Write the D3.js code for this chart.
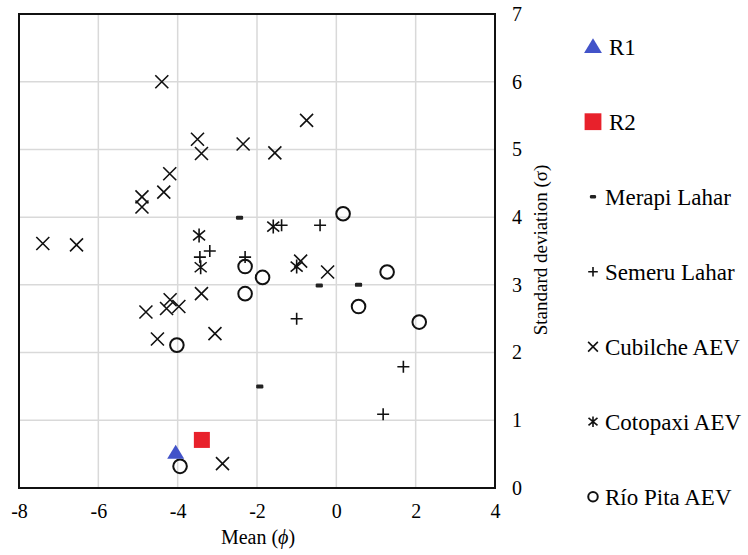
<!DOCTYPE html>
<html>
<head>
<meta charset="utf-8">
<script src="https://cdn.jsdelivr.net/npm/d3@7"></script>
<style>
  body { margin: 0; background: #fff; }
  text { font-family: "Liberation Serif", "Times New Roman", serif; fill: #000; }
</style>
</head>
<body>
<div id="chart"></div>
<script>
// data: mean (phi) and standard deviation (sigma)
const r1Mean = [-4.05], r1Sd = [0.52];
const r2Mean = [-3.39], r2Sd = [0.71];
const merapiMean = [-2.44, -0.43, 0.56, -1.93];
const merapiSd   = [3.99, 2.99, 3.0, 1.5];
const semeruMean = [-3.19, -3.44, -2.3, -1.38, -0.41, -1.0, 1.69, 1.18];
const semeruSd   = [3.5, 3.41, 3.41, 3.88, 3.88, 2.5, 1.79, 1.09];
const cubilcheMean = [-4.4, -3.5, -3.4, -2.35, -0.75, -1.55, -4.2, -4.35, -4.9, -4.9, -7.4, -6.55,
                      -3.4, -4.19, -4.28, -3.97, -4.8, -4.51, -3.06, -2.87, -0.9, -0.22];
const cubilcheSd   = [6.0, 5.15, 4.94, 5.08, 5.43, 4.95, 4.64, 4.37, 4.3, 4.15, 3.61, 3.59,
                      2.87, 2.78, 2.65, 2.68, 2.6, 2.2, 2.28, 0.36, 3.35, 3.19];
const cotopaxiMean = [-3.46, -3.42, -1.59, -1.0];
const cotopaxiSd   = [3.73, 3.26, 3.86, 3.27];
const pitaMean = [0.17, -2.3, -2.3, -1.86, 1.28, 0.56, 2.09, -4.02, -3.94];
const pitaSd   = [4.05, 3.27, 2.87, 3.11, 3.19, 2.68, 2.45, 2.11, 0.32];

const xTicks = [-8, -6, -4, -2, 0, 2, 4];
const yTicks = [0, 1, 2, 3, 4, 5, 6, 7];

const seriesNames = ["R1", "R2", "Merapi Lahar", "Semeru Lahar", "Cubilche AEV", "Cotopaxi AEV", "Río Pita AEV"];
const seriesMarks = ["tri", "square", "dash", "plus", "cross", "star", "circle"];
const seriesMeans = [r1Mean, r2Mean, merapiMean, semeruMean, cubilcheMean, cotopaxiMean, pitaMean];
const seriesSds   = [r1Sd, r2Sd, merapiSd, semeruSd, cubilcheSd, cotopaxiSd, pitaSd];

const W = 748, H = 555;
const plot = { left: 19, top: 14, right: 495, bottom: 488 };

const svg = d3.select("#chart").append("svg").attr("width", W).attr("height", H);

const x = d3.scaleLinear().domain([-8, 4]).range([plot.left, plot.right]);
const y = d3.scaleLinear().domain([0, 7]).range([plot.bottom, plot.top]);

// grid
svg.append("g").selectAll("line").data(xTicks).join("line")
  .attr("x1", d => x(d)).attr("x2", d => x(d))
  .attr("y1", plot.top).attr("y2", plot.bottom)
  .attr("stroke", "#d9d9d9").attr("stroke-width", 1.5);
svg.append("g").selectAll("line").data(yTicks).join("line")
  .attr("y1", d => y(d)).attr("y2", d => y(d))
  .attr("x1", plot.left).attr("x2", plot.right)
  .attr("stroke", "#d9d9d9").attr("stroke-width", 1.5);

// axes (labels only), plain hyphen for negatives like the original
const xAxis = svg.append("g").attr("transform", `translate(0,${plot.bottom})`)
  .call(d3.axisBottom(x).tickValues(xTicks).tickSize(0).tickPadding(16).tickFormat(d => String(d)));
xAxis.select(".domain").remove();
xAxis.selectAll("text").style("font-size", "20px").style("font-family", "Liberation Serif, serif").attr("fill", "#000");

const yAxis = svg.append("g").attr("transform", `translate(${plot.right},0)`)
  .call(d3.axisRight(y).tickValues(yTicks).tickSize(0).tickPadding(17).tickFormat(d => String(d)));
yAxis.select(".domain").remove();
yAxis.selectAll("text").style("font-size", "20px").style("font-family", "Liberation Serif, serif").attr("fill", "#000");

// frame
svg.append("rect")
  .attr("x", plot.left).attr("y", plot.top)
  .attr("width", plot.right - plot.left).attr("height", plot.bottom - plot.top)
  .attr("fill", "none").attr("stroke", "#111").attr("stroke-width", 2);

// axis titles
const xt = svg.append("text").attr("x", 258).attr("y", 544).attr("text-anchor", "middle")
  .style("font-size", "20px");
xt.append("tspan").text("Mean (");
xt.append("tspan").style("font-style", "italic").text("ϕ");
xt.append("tspan").text(")");
svg.append("text").attr("transform", "translate(547,250) rotate(-90)").attr("text-anchor", "middle")
  .style("font-size", "19px").text("Standard deviation (σ)");

// marker drawing
function drawMark(g, type, k) {
  const sw = 1.6;
  if (type === "tri") {
    g.append("path").attr("d", `M0,${-8 * k}L${8.5 * k},${6 * k}L${-8.5 * k},${6 * k}Z`).attr("fill", "#4253c9");
  } else if (type === "square") {
    g.append("rect").attr("x", -8 * k).attr("y", -8 * k).attr("width", 16 * k).attr("height", 16 * k).attr("fill", "#e8212b");
  } else if (type === "dash") {
    g.append("rect").attr("x", -3.6 * k).attr("y", -2 * k).attr("width", 7.2 * k).attr("height", 4 * k)
      .attr("rx", 1.2).attr("fill", "#222");
  } else if (type === "plus") {
    g.append("path").attr("d", `M${-6 * k},0H${6 * k}M0,${-6 * k}V${6 * k}`).attr("stroke", "#111").attr("stroke-width", sw);
  } else if (type === "cross") {
    g.append("path").attr("d", `M${-6.5 * k},${-6.5 * k}L${6.5 * k},${6.5 * k}M${6.5 * k},${-6.5 * k}L${-6.5 * k},${6.5 * k}`)
      .attr("stroke", "#111").attr("stroke-width", sw);
  } else if (type === "star") {
    g.append("path").attr("d", `M${-6 * k},${-5 * k}L${6 * k},${5 * k}M${6 * k},${-5 * k}L${-6 * k},${5 * k}M0,${-7 * k}V${7 * k}`)
      .attr("stroke", "#111").attr("stroke-width", sw);
  } else if (type === "circle") {
    g.append("circle").attr("r", 6.8 * k).attr("fill", "none").attr("stroke", "#111").attr("stroke-width", 2);
  }
}

// points (drawn so that R1/R2 sit on top)
const order = [2, 3, 4, 5, 6, 0, 1];
order.forEach(i => {
  const pts = seriesMeans[i].map((m, j) => ({ m: m, s: seriesSds[i][j] }));
  svg.append("g").selectAll("g").data(pts).join("g")
    .attr("transform", d => `translate(${x(d.m)},${y(d.s)})`)
    .each(function () { drawMark(d3.select(this), seriesMarks[i], 1); });
});

// legend
const legendSizes = [1.05, 1.05, 0.85, 0.8, 0.75, 0.75, 0.7];
const legend = svg.append("g");
seriesNames.forEach((name, i) => {
  const ly = 46.7 + i * 75;
  const g = legend.append("g").attr("transform", `translate(593,${ly})`);
  drawMark(g, seriesMarks[i], legendSizes[i]);
  legend.append("text").attr("x", i < 2 ? 609 : 605).attr("y", ly).attr("dy", "0.35em")
    .style("font-size", "23px").text(name);
});
</script>
</body>
</html>
